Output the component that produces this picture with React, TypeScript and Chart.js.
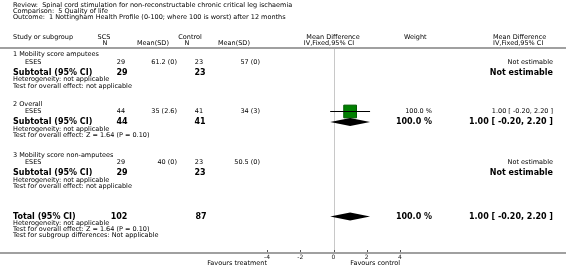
import React, { useEffect, useRef } from "react";
import { Chart, registerables } from "chart.js";

Chart.register(...registerables);

// ---------- data ----------
const titleLines = [
  "Review:  Spinal cord stimulation for non-reconstructable chronic critical leg ischaemia",
  "Comparison:  5 Quality of life",
  "Outcome:  1 Nottingham Health Profile (0-100; where 100 is worst) after 12 months",
];
const subgroups = ["1 Mobility score amputees", "2 Overall", "3 Mobility score non-amputees"];
const studies = ["ESES", "ESES", "ESES"];
const scsN = [29, 44, 29];
const scsMean = ["61.2 (0)", "35 (2.6)", "40 (0)"];
const ctrlN = [23, 41, 23];
const ctrlMean = ["57 (0)", "34 (3)", "50.5 (0)"];
const studyMD: (number | null)[] = [null, 1.0, null];
const studyLo: (number | null)[] = [null, -0.2, null];
const studyHi: (number | null)[] = [null, 2.2, null];
const studyWeight = ["", "100.0 %", ""];
const studyResult = ["Not estimable", "1.00 [ -0.20, 2.20 ]", "Not estimable"];
const subWeight = ["", "100.0 %", ""];
const subResult = ["Not estimable", "1.00 [ -0.20, 2.20 ]", "Not estimable"];
const subHet = ["Heterogeneity: not applicable", "Heterogeneity: not applicable", "Heterogeneity: not applicable"];
const subTest = [
  "Test for overall effect: not applicable",
  "Test for overall effect: Z = 1.64 (P = 0.10)",
  "Test for overall effect: not applicable",
];
const totalN = [102, 87];
const totalMD = 1.0;
const totalLo = -0.2;
const totalHi = 2.2;
const totalWeight = "100.0 %";
const totalResult = "1.00 [ -0.20, 2.20 ]";
const totalNotes = [
  "Heterogeneity: not applicable",
  "Test for overall effect: Z = 1.64 (P = 0.10)",
  "Test for subgroup differences: Not applicable",
];
const tickValues = [-4, -2, 0, 2, 4];
const favourLeft = "Favours treatment";
const favourRight = "Favours control";

// ---------- layout (row positions in the y scale's units) ----------
const groupBase = [54.5, 104, 155];
const rowOffsets = [0, 7.5, 18, 25, 31.5]; // header, study, subtotal, het, test
const totalRows = [216.5, 223, 229, 235];

const FONT = '"DejaVu Sans", Verdana, sans-serif';
const SMALL = 6.5;
const BIG = 8;

export default function App() {
  const ref = useRef<HTMLCanvasElement | null>(null);

  useEffect(() => {
    document.body.style.margin = "0";
    const canvas = ref.current;
    if (!canvas) return;

    const studyY = groupBase.map((b) => b + rowOffsets[1]);
    const subY = groupBase.map((b) => b + rowOffsets[2]);

    const ciData: any[] = [];
    const sqData: any[] = [];
    studyMD.forEach((m, i) => {
      if (m !== null && studyLo[i] !== null && studyHi[i] !== null) {
        ciData.push({ x: studyLo[i], y: studyY[i] }, { x: studyHi[i], y: studyY[i] }, { x: NaN, y: NaN });
        sqData.push({ x: m, y: studyY[i] });
      }
    });

    const diamonds: { lo: number; md: number; hi: number; y: number }[] = [];
    studyMD.forEach((m, i) => {
      if (m !== null) diamonds.push({ lo: studyLo[i] as number, md: m, hi: studyHi[i] as number, y: subY[i] });
    });
    diamonds.push({ lo: totalLo, md: totalMD, hi: totalHi, y: totalRows[0] });

    const forest = {
      id: "forest",
      beforeDatasetsDraw(chart: any) {
        const ctx = chart.ctx;
        const xs = chart.scales.x;
        const x0 = Math.round(xs.getPixelForValue(0)) + 0.5;
        ctx.save();
        ctx.strokeStyle = "#c8c8c8";
        ctx.lineWidth = 1;
        ctx.beginPath();
        ctx.moveTo(x0, 49);
        ctx.lineTo(x0, chart.chartArea.bottom);
        ctx.stroke();
        ctx.restore();
      },
      afterDraw(chart: any) {
        const ctx = chart.ctx;
        const xs = chart.scales.x;
        const ys = chart.scales.y;
        const W = chart.width;
        ctx.save();
        const text = (s: string, x: number, y: number, align: CanvasTextAlign = "left", bold = false, size = SMALL) => {
          ctx.font = `${bold ? "bold " : ""}${size}px ${FONT}`;
          ctx.textAlign = align;
          ctx.textBaseline = "middle";
          ctx.fillStyle = "#000";
          ctx.fillText(s, x, y);
        };
        // titles
        text(titleLines[0], 13, 5);
        text(titleLines[1], 13, 11);
        text(titleLines[2], 13, 17.5);
        // headers
        text("Study or subgroup", 13, 37);
        text("SCS", 104, 37, "center");
        text("N", 105, 43, "center");
        text("Mean(SD)", 137, 43, "left");
        text("Control", 190, 37, "center");
        text("N", 187, 43, "center");
        text("Mean(SD)", 218, 43, "left");
        text("Mean Difference", 333, 37, "center");
        text("IV,Fixed,95% CI", 329, 43, "center");
        text("Weight", 404, 37);
        text("Mean Difference", 493, 37);
        text("IV,Fixed,95% CI", 493, 43);
        // header rule
        ctx.fillStyle = "#a0a0a0";
        ctx.fillRect(0, 47, W, 2);
        // axis rule
        const axY = chart.chartArea.bottom;
        ctx.fillRect(0, axY, W, 2);
        // ticks
        ctx.strokeStyle = "#555";
        ctx.lineWidth = 1;
        tickValues.forEach((v) => {
          const px = Math.round(xs.getPixelForValue(v)) + 0.5;
          ctx.beginPath();
          ctx.moveTo(px, axY - 2);
          ctx.lineTo(px, axY);
          ctx.stroke();
        });

        // subgroups
        subgroups.forEach((g, i) => {
          const b = groupBase[i];
          const yH = ys.getPixelForValue(b + rowOffsets[0]);
          const yS = ys.getPixelForValue(b + rowOffsets[1]);
          const yT = ys.getPixelForValue(b + rowOffsets[2]);
          const yHet = ys.getPixelForValue(b + rowOffsets[3]);
          const yTest = ys.getPixelForValue(b + rowOffsets[4]);
          text(g, 13, yH);
          text(studies[i], 25, yS);
          text(String(scsN[i]), 121, yS, "center");
          text(scsMean[i], 177, yS, "right");
          text(String(ctrlN[i]), 199, yS, "center");
          text(ctrlMean[i], 260, yS, "right");
          if (studyWeight[i]) text(studyWeight[i], 432, yS, "right");
          text(studyResult[i], 553, yS, "right");
          text("Subtotal (95% CI)", 13, yT, "left", true, BIG);
          text(String(scsN[i]), 122, yT, "center", true, BIG);
          text(String(ctrlN[i]), 200, yT, "center", true, BIG);
          if (subWeight[i]) text(subWeight[i], 432, yT, "right", true, BIG);
          text(subResult[i], 553, yT, "right", true, BIG);
          text(subHet[i], 13, yHet);
          text(subTest[i], 13, yTest);
        });

        // total
        const yTot = ys.getPixelForValue(totalRows[0]);
        text("Total (95% CI)", 13, yTot, "left", true, BIG);
        text(String(totalN[0]), 119, yTot, "center", true, BIG);
        text(String(totalN[1]), 201, yTot, "center", true, BIG);
        text(totalWeight, 432, yTot, "right", true, BIG);
        text(totalResult, 553, yTot, "right", true, BIG);
        totalNotes.forEach((n, k) => text(n, 13, ys.getPixelForValue(totalRows[k + 1])));

        // diamonds
        ctx.fillStyle = "#000";
        diamonds.forEach((d) => {
          const y = ys.getPixelForValue(d.y);
          const l = xs.getPixelForValue(d.lo);
          const m = xs.getPixelForValue(d.md);
          const h = xs.getPixelForValue(d.hi);
          ctx.beginPath();
          ctx.moveTo(l, y);
          ctx.lineTo(m, y - 4);
          ctx.lineTo(h, y);
          ctx.lineTo(m, y + 4);
          ctx.closePath();
          ctx.fill();
        });

        // favours labels
        text(favourLeft, xs.getPixelForValue(-4), 263.5, "right");
        text(favourRight, xs.getPixelForValue(4), 263.5, "right");
        ctx.restore();
      },
    };

    const chart = new Chart(canvas, {
      type: "scatter",
      data: {
        datasets: [
          {
            type: "line",
            data: ciData,
            borderColor: "#000",
            borderWidth: 1,
            pointRadius: 0,
            spanGaps: false,
            order: 0,
          } as any,
          {
            type: "scatter",
            data: sqData,
            pointStyle: "rect",
            pointRadius: 9,
            backgroundColor: "#008000",
            borderColor: "#005a00",
            borderWidth: 1,
            order: 1,
          } as any,
        ],
      },
      options: {
        animation: false,
        responsive: false,
        devicePixelRatio: 1,
        layout: { autoPadding: false, padding: { left: 267, right: 166, top: 0, bottom: 0 } },
        plugins: { legend: { display: false }, tooltip: { enabled: false } },
        events: [],
        scales: {
          x: {
            type: "linear",
            min: -4,
            max: 4,
            afterFit: (s: any) => {
              s.height = 24;
            },
            afterBuildTicks: (s: any) => {
              s.ticks = tickValues.map((v) => ({ value: v }));
            },
            grid: { display: false, drawTicks: false },
            border: { display: false },
            ticks: {
              padding: 2,
              color: "#222",
              font: { family: FONT, size: 6 },
              maxRotation: 0,
              autoSkip: false,
            },
          },
          y: {
            type: "linear",
            display: false,
            min: 0,
            max: 252,
            reverse: true,
          },
        },
      },
      plugins: [forest],
    });
    return () => chart.destroy();
  }, []);

  return <canvas ref={ref} width={566} height={276} style={{ display: "block" }} />;
}
